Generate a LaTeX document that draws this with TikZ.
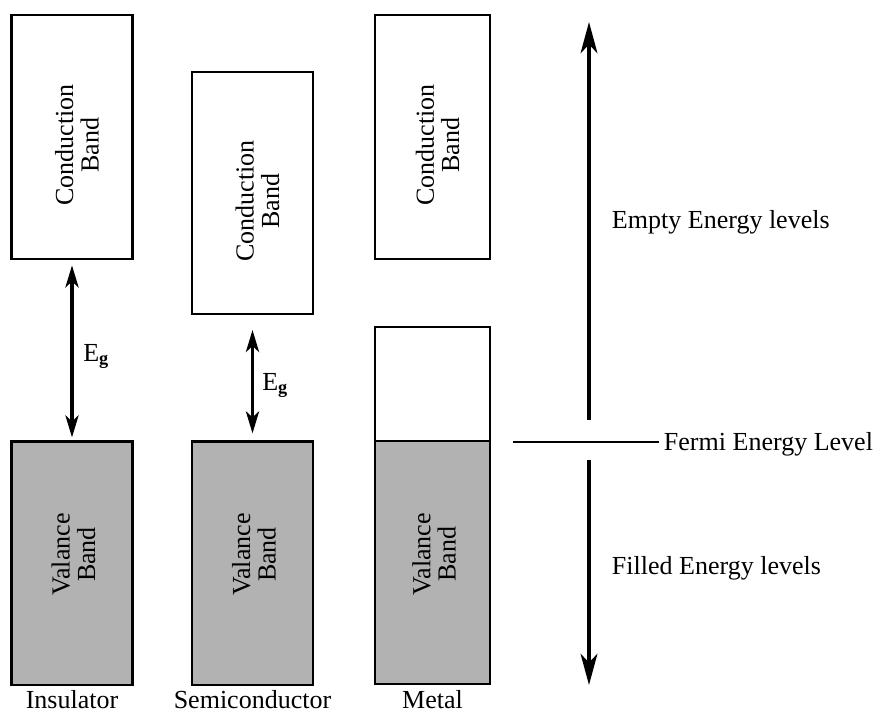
\documentclass[tikz,border=0pt]{standalone}
\usepackage{fontspec}
\setmainfont{Liberation Serif}
\usetikzlibrary{arrows.meta, positioning}
\definecolor{filled}{RGB}{178,178,178}

\begin{document}
\begin{tikzpicture}[x=0.025cm, y=-0.025cm,
    font=\fontsize{18.5}{18}\selectfont,
    band/.style={draw, line width=1.6pt, inner sep=0pt, outer sep=0pt,
                 minimum width=3.03cm, minimum height=6.08cm},
    valence/.style={band, fill=filled},
    bandtext/.style={rotate=90, align=center},
    gap/.style={{Stealth[length=0.55cm, width=0.33cm, inset=0.15cm]}-{Stealth[length=0.55cm, width=0.33cm, inset=0.15cm]},
                line width=2.2pt},
    level/.style={-{Stealth[length=0.78cm, width=0.42cm, inset=0.22cm]}, line width=2.4pt}]
  \useasboundingbox (0,0) rectangle (885,712);

  % insulator
  \node[band] (ins cb) at (72,137) {};
  \node[valence] (ins vb) at (72,563) {};
  \node[bandtext] (ins cb text) at ([shift={(5,8)}]ins cb.center) {Conduction\\Band};
  \node[bandtext] (ins vb text) at ([shift={(1.5,-8.5)}]ins vb.center) {Valance\\Band};
  \draw[gap, shorten <=0.17cm, shorten >=0.1cm] (ins cb) -- (ins vb);
  \node[anchor=base west, inner sep=0pt] (ins eg) at (83,361) {E\textsubscript{\textbf{g}}};
  \node[anchor=base] (ins name) at (72,708) {Insulator};

  % semiconductor
  \node[band, minimum height=6.05cm] (semi cb) at (252.5,193) {};
  \node[valence] (semi vb) at (252.5,563) {};
  \node[bandtext] (semi cb text) at ([shift={(5,8)}]semi cb.center) {Conduction\\Band};
  \node[bandtext] (semi vb text) at ([shift={(1.5,-8.5)}]semi vb.center) {Valance\\Band};
  \draw[gap, shorten <=0.4cm, shorten >=0.2cm] (semi cb) -- (semi vb);
  \node[anchor=base west, inner sep=0pt] (semi eg) at (262,390) {E\textsubscript{\textbf{g}}};
  \node[anchor=base] (semi name) at (252.5,708) {Semiconductor};

  % metal
  \node[band, minimum width=2.875cm] (met cb) at (432.5,137) {};
  \node[band, minimum width=2.875cm, minimum height=2.85cm] (met empty) at (432.5,384) {};
  \node[valence, minimum width=2.875cm, below=0pt of met empty] (met vb) {};
  \node[bandtext] (met cb text) at ([shift={(5,8)}]met cb.center) {Conduction\\Band};
  \node[bandtext] (met vb text) at ([shift={(1.5,-8.5)}]met vb.center) {Valance\\Band};
  \node[anchor=base] (met name) at (432.5,708) {Metal};

  % energy levels
  \coordinate (empty top) at (589,22);
  \coordinate (empty base) at (589,420);
  \coordinate (filled base) at (589,460);
  \coordinate (filled end) at (589,685);
  \draw[level] (empty base) -- (empty top);
  \draw[level] (filled base) -- (filled end);
  \node[anchor=base west] (empty) at (607,228) {Empty Energy levels};
  \node[anchor=base west] (filled) at (607,574) {Filled Energy levels};

  % fermi level
  \coordinate (fermi start) at (513,442);
  \node[anchor=base west] (fermi) at (659,450) {Fermi Energy Level};
  \draw[line width=1.6pt] (fermi start) -- (fermi start -| fermi.west);
\end{tikzpicture}
\end{document}
